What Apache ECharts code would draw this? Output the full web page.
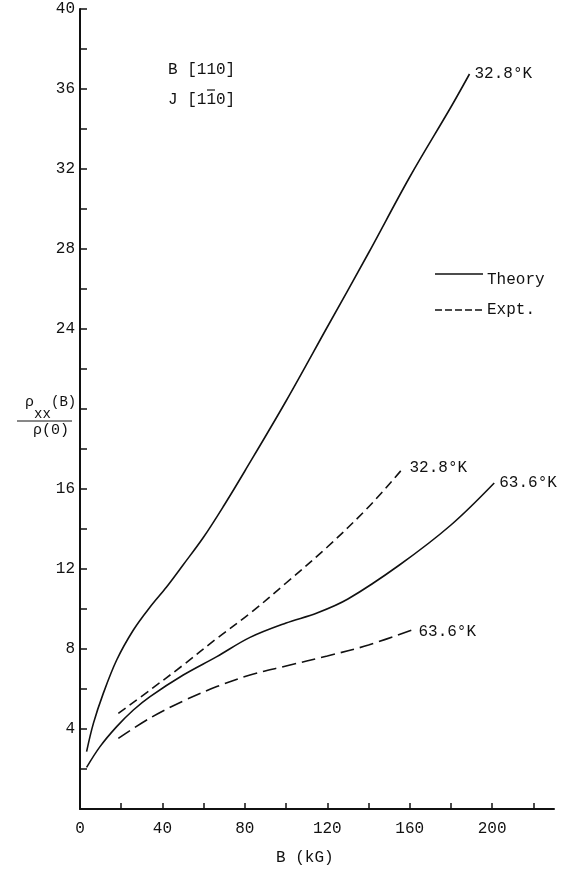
<!DOCTYPE html>
<html>
<head>
<meta charset="utf-8">
<script src="https://cdn.jsdelivr.net/npm/echarts@6/dist/echarts.min.js"></script>
<style>
html,body{margin:0;padding:0;background:#fff;}
#chart{width:565px;height:873px;}
</style>
</head>
<body>
<div id="chart"></div>
<script>
// Theory, 32.8 K
const theory328B = [3.2, 6.5, 11.3, 17.8, 25.9, 34, 42, 50, 60, 70, 80, 100, 120, 140, 160, 180, 189];
const theory328Y = [2.87, 4.28, 5.78, 7.45, 8.95, 10.1, 11.1, 12.2, 13.6, 15.2, 16.9, 20.4, 24.1, 27.8, 31.6, 35.1, 36.75];
// Theory, 63.6 K
const theory636B = [3.2, 9.7, 17.8, 25.9, 34, 50.1, 66.4, 82.5, 100, 115, 130, 155, 180, 201];
const theory636Y = [2.08, 3.12, 4.12, 4.95, 5.62, 6.7, 7.62, 8.58, 9.3, 9.8, 10.5, 12.2, 14.2, 16.3];
// Experiment, 32.8 K
const expt328B = [18.6, 34, 50.1, 66.4, 82.5, 100, 120, 140, 156];
const expt328Y = [4.78, 5.95, 7.2, 8.53, 9.78, 11.3, 13.1, 15.1, 16.95];
// Experiment, 63.6 K
const expt636B = [18.6, 34, 50.1, 66.4, 82.5, 100, 120, 140, 161.8];
const expt636Y = [3.53, 4.55, 5.4, 6.12, 6.7, 7.15, 7.65, 8.2, 8.98];

const xTickValues = [0, 20, 40, 60, 80, 100, 120, 140, 160, 180, 200, 220];
const xLabelValues = [0, 40, 80, 120, 160, 200];
const yTickValues = [2, 4, 6, 8, 10, 12, 14, 16, 18, 20, 22, 24, 26, 28, 30, 32, 34, 36, 38, 40];
const yShownLabels = [4, 8, 12, 16, 24, 28, 32, 36, 40];

const FONT = "'Liberation Mono', 'DejaVu Sans Mono', monospace";
const INK = '#111';

function zip(a, b) { return a.map((v, i) => [v, b[i]]); }

function lineSeries(name, bs, ys, dash, label, off) {
  return {
    name: name, type: 'line', data: zip(bs, ys), showSymbol: false, symbol: 'none',
    smooth: 0.35,
    lineStyle: { color: INK, width: 1.6, type: dash || 'solid' },
    endLabel: { show: true, formatter: label, fontFamily: FONT, fontSize: 16, color: INK,
      distance: 5, offset: off || [0, 0] },
    silent: true
  };
}

const chart = echarts.init(document.getElementById('chart'), null, { renderer: 'canvas' });
chart.setOption({
  animation: false,
  backgroundColor: '#ffffff',
  grid: { left: 80, right: 11, top: 9, bottom: 64 },
  xAxis: {
    type: 'value', min: 0, max: 230,
    axisLine: { show: true, lineStyle: { color: INK, width: 2 } },
    axisTick: { show: true, inside: true, length: 6, customValues: xTickValues, lineStyle: { color: INK, width: 1.5 } },
    axisLabel: { customValues: xLabelValues, margin: 12, fontFamily: FONT, fontSize: 16, color: INK },
    splitLine: { show: false }
  },
  yAxis: {
    type: 'value', min: 0, max: 40,
    axisLine: { show: true, lineStyle: { color: INK, width: 2 } },
    axisTick: { show: true, inside: true, length: 7, customValues: yTickValues, lineStyle: { color: INK, width: 1.5 } },
    axisLabel: { customValues: yShownLabels, margin: 5, fontFamily: FONT, fontSize: 16, color: INK },
    splitLine: { show: false }
  },
  series: [
    lineSeries('Theory 32.8', theory328B, theory328Y, 'solid', '32.8°K'),
    lineSeries('Theory 63.6', theory636B, theory636Y, 'solid', '63.6°K'),
    lineSeries('Expt 32.8', expt328B, expt328Y, [9, 5], '32.8°K', [3, -2]),
    lineSeries('Expt 63.6', expt636B, expt636Y, [14, 6], '63.6°K', [0, 2])
  ],
  graphic: [
    { type: 'text', left: 168, top: 62, style: { text: 'B [110]', font: '16px ' + FONT, fill: INK } },
    { type: 'text', left: 168, top: 92, style: { text: 'J [110]', font: '16px ' + FONT, fill: INK } },
    { type: 'line', shape: { x1: 207, y1: 90, x2: 215, y2: 90 }, style: { stroke: INK, lineWidth: 1.2 } },
    // legend
    { type: 'line', shape: { x1: 435, y1: 274, x2: 483, y2: 274 }, style: { stroke: INK, lineWidth: 1.6 } },
    { type: 'text', left: 487, top: 272, style: { text: 'Theory', font: '16px ' + FONT, fill: INK } },
    { type: 'line', shape: { x1: 435, y1: 310, x2: 483, y2: 310 }, style: { stroke: INK, lineWidth: 1.6, lineDash: [7, 3] } },
    { type: 'text', left: 487, top: 302, style: { text: 'Expt.', font: '16px ' + FONT, fill: INK } },
    // y axis name
    { type: 'text', left: 25, top: 395, style: { text: 'ρ', font: '15px ' + FONT, fill: INK } },
    { type: 'text', left: 34, top: 407, style: { text: 'xx', font: '14px ' + FONT, fill: INK } },
    { type: 'text', left: 51, top: 395, style: { text: '(B)', font: '14px ' + FONT, fill: INK } },
    { type: 'line', shape: { x1: 17, y1: 421, x2: 72, y2: 421 }, style: { stroke: INK, lineWidth: 1 } },
    { type: 'text', left: 33, top: 423, style: { text: 'ρ(0)', font: '15px ' + FONT, fill: INK } },
    // x axis name
    { type: 'text', left: 276, top: 850, style: { text: 'B (kG)', font: '16px ' + FONT, fill: INK } }
  ]
});
</script>
</body>
</html>
